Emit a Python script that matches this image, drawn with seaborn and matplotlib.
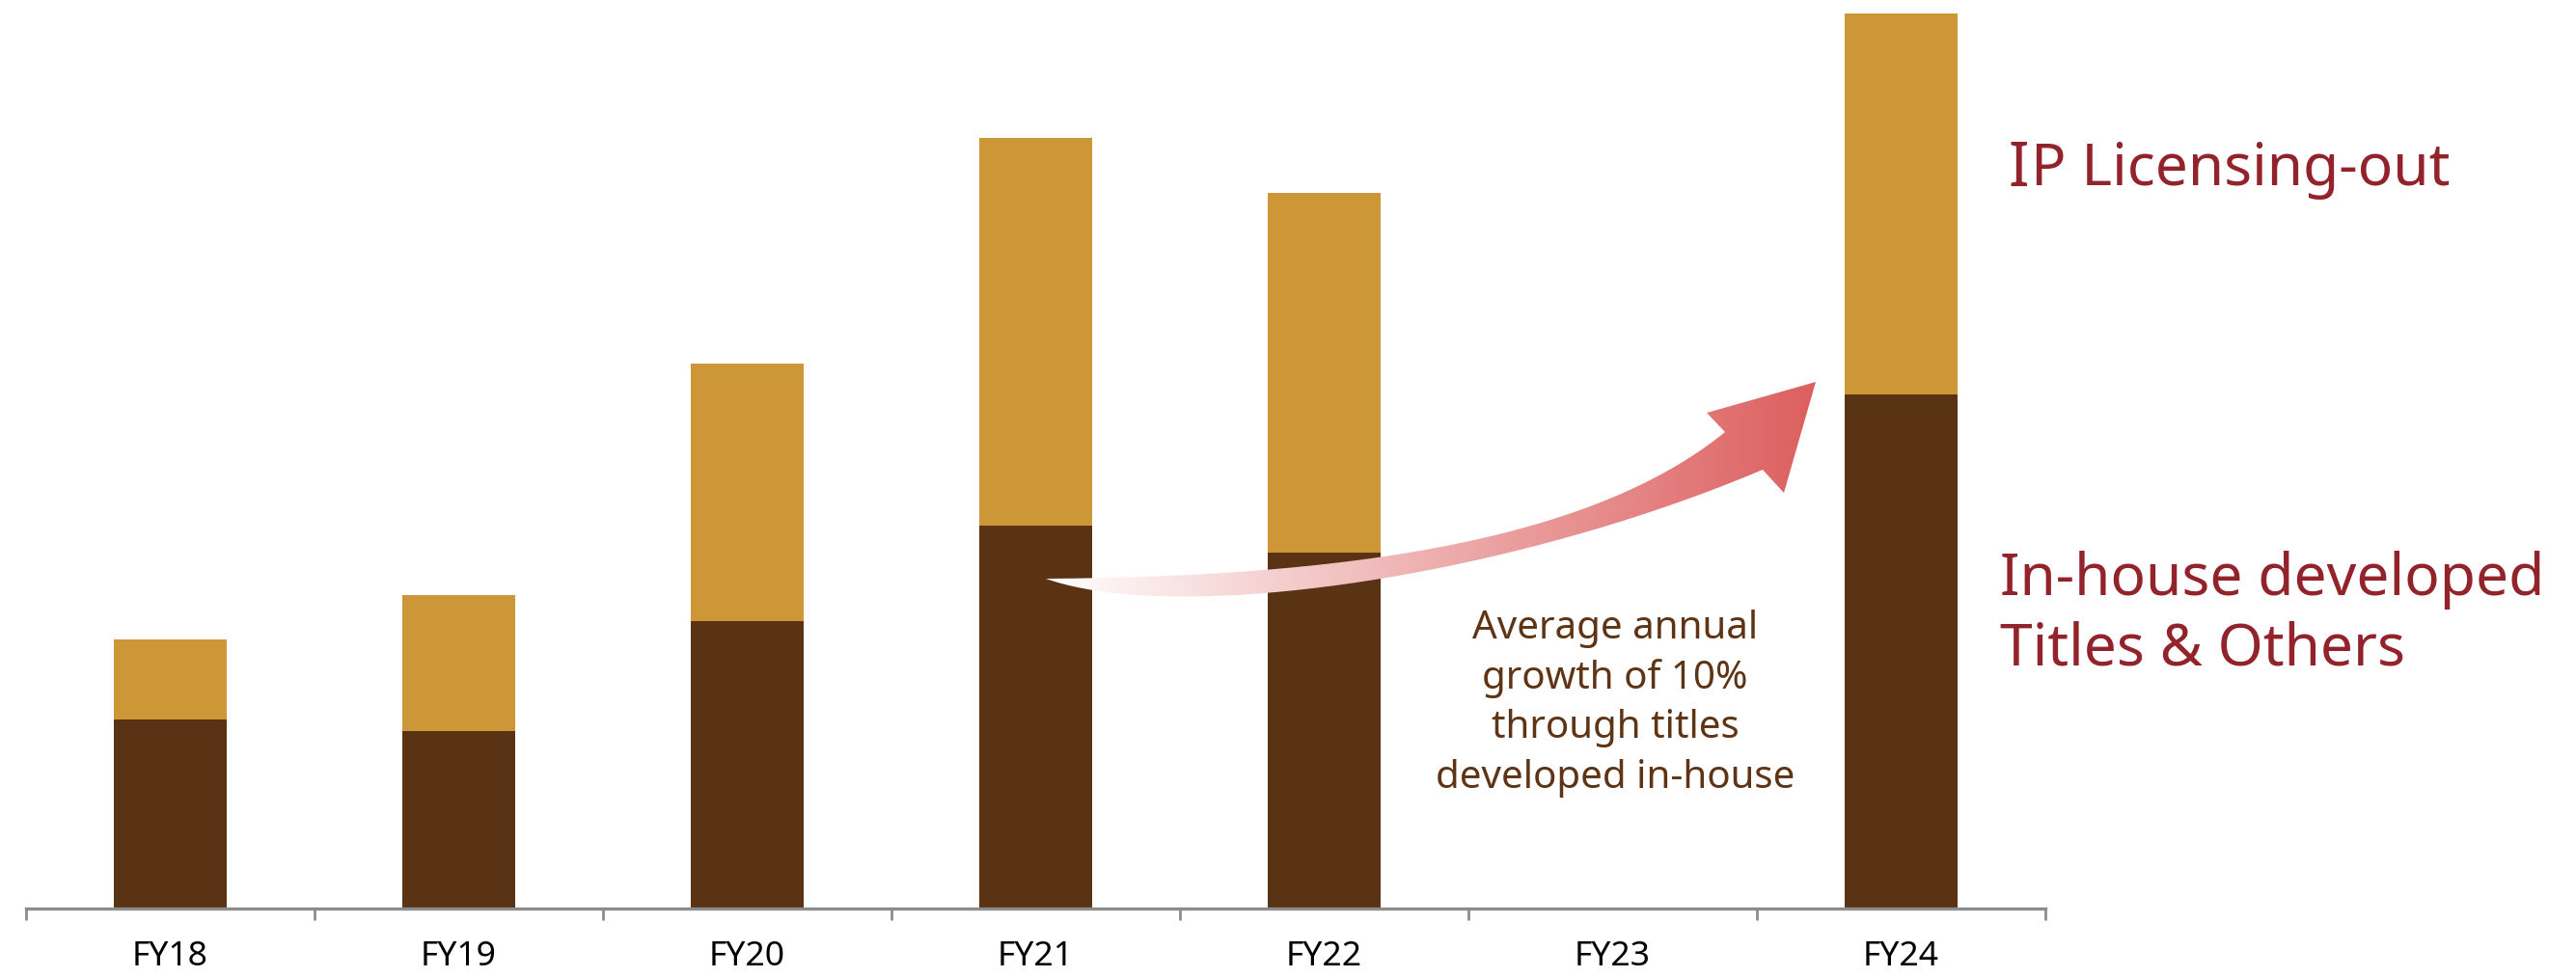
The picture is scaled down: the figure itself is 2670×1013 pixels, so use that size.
import numpy as np
import pandas as pd
import matplotlib
matplotlib.use("Agg")
import matplotlib.pyplot as plt
import seaborn as sns
from matplotlib.patches import PathPatch
from matplotlib.path import Path
from matplotlib.colors import LinearSegmentedColormap

# Revenue split by fiscal year (FY23 not reported)
years = ["FY18", "FY19", "FY20", "FY21", "FY22", "FY23", "FY24"]
in_house = [23.0, 21.6, 35.0, 46.6, 43.4, np.nan, 62.6]
licensing = [9.8, 16.6, 31.4, 47.2, 43.8, np.nan, 46.4]

label_licensing = "IP Licensing-out"
label_in_house = ["In-house developed", "Titles & Others"]
note_lines = ["Average annual", "growth of 10%", "through titles", "developed in-house"]

BROWN = "#5A3214"
GOLD = "#CD9637"
RED_TEXT = "#93232B"
NOTE_COLOR = "#5E3415"
AXIS_GREY = "#8C8C8C"

df = pd.DataFrame({"year": years, "in_house": in_house, "licensing": licensing})
df["total"] = df["in_house"] + df["licensing"]
plot_df = df.dropna()

sns.set_theme(style="white")
plt.rcParams["font.family"] = ["Noto Sans", "DejaVu Sans"]

W, H = 2670, 1013
fig = plt.figure(figsize=(W / 100, H / 100), dpi=100)
ax = fig.add_axes([27 / W, 71 / H, (2120 - 27) / W, (942 - 14) / H])

# Stacked bars: total height in gold, in-house part in brown on top of it
bar_kw = dict(order=years, saturation=1, width=0.393, errorbar=None, linewidth=0, ax=ax)
sns.barplot(data=plot_df, x="year", y="total", color=GOLD, **bar_kw)
sns.barplot(data=plot_df, x="year", y="in_house", color=BROWN, **bar_kw)

ax.set_xlim(-0.5, len(years) - 0.5)
ax.set_ylim(0, plot_df["total"].max())
ax.set_xlabel("")
ax.set_ylabel("")
ax.set_yticks([])

# Boundary ticks between categories, labels centred under each category
ax.set_xticks(np.arange(-0.5, len(years), 1.0))
ax.set_xticklabels([])
ax.set_xticks(range(len(years)), labels=years, minor=True)
ax.tick_params(axis="x", which="major", bottom=True, length=8.5, width=2,
               color=AXIS_GREY, direction="out")
ax.tick_params(axis="x", which="minor", bottom=True, length=0, pad=24,
               labelsize=25.5, labelcolor="black")
for side in ("left", "top", "right"):
    ax.spines[side].set_visible(False)
ax.spines["bottom"].set_color(AXIS_GREY)
ax.spines["bottom"].set_linewidth(2.4)

# Overlay in figure pixel units for the growth arrow and labels
ov = fig.add_axes([0, 0, 1, 1], zorder=5)
ov.patch.set_alpha(0)


def cubic(p0, p1, p2, p3, n=120):
    t = np.linspace(0, 1, n)[:, None]
    p0, p1, p2, p3 = map(np.asarray, (p0, p1, p2, p3))
    return ((1 - t) ** 3) * p0 + 3 * ((1 - t) ** 2) * t * p1 + 3 * (1 - t) * t ** 2 * p2 + t ** 3 * p3


tail = (1084, 600)
upper = cubic(tail, (1400, 598), (1650, 560), (1788, 448))
lower = cubic(tail, (1220, 648), (1560, 600), (1827, 487))
head = np.array([(1769, 428), (1882, 396), (1849, 511)])
outline = np.vstack([upper, head, lower[::-1]])
arrow_path = Path(outline, closed=False)
arrow_patch = PathPatch(arrow_path, facecolor="none", edgecolor="none")
ov.add_patch(arrow_patch)

cmap = LinearSegmentedColormap.from_list("arrow_fade", ["#FFFFFF", "#DD5F5F"])
gradient = np.linspace(0, 1, 512)[None, :]
im = ov.imshow(gradient, extent=(1084, 1882, 660, 380), cmap=cmap, aspect="auto",
               interpolation="bilinear")
im.set_clip_path(arrow_patch)

ov.set_xlim(0, W)
ov.set_ylim(H, 0)
ov.axis("off")

# Note under the arrow
for i, line in enumerate(note_lines):
    ov.text(1674, 652 + i * 51.5, line, ha="center", va="center",
            fontsize=29, color=NOTE_COLOR)

# Series labels at the right
t_i = ov.text(2081, 176, "I", ha="left", va="center", fontsize=46,
              fontweight="bold", color=RED_TEXT)
ov.annotate(label_licensing[1:], xy=(1, 0.5), xycoords=t_i, xytext=(2, 0),
            textcoords="offset points", ha="left", va="center",
            fontsize=43.5, color=RED_TEXT)
for i, line in enumerate(label_in_house):
    ov.text(2073, 601 + i * 73, line, ha="left", va="center",
            fontsize=43.5, color=RED_TEXT)

fig.savefig("out.png", dpi=100)
